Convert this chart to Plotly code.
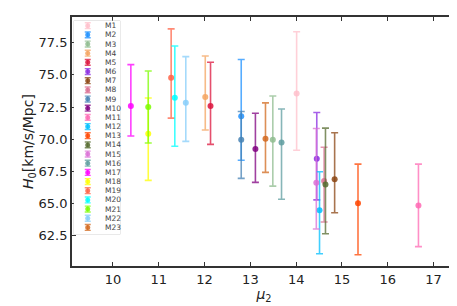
import plotly.graph_objects as go

models = ["M%d" % i for i in range(1, 24)]
colors = ["pink", "dodgerblue", "darkseagreen", "sandybrown", "crimson", "blueviolet",
          "saddlebrown", "palevioletred", "steelblue", "purple", "hotpink", "deepskyblue",
          "orangered", "darkolivegreen", "orchid", "cadetblue", "magenta", "yellow",
          "tomato", "cyan", "lawngreen", "lightskyblue", "chocolate"]
mu2 = [14.01, 12.80, 13.49, 12.015, 12.13, 14.45, 14.84, 14.61, 12.80, 13.11, 16.67, 14.51,
       15.35, 14.64, 14.44, 13.68, 10.39, 10.77, 11.27, 11.35, 10.77, 11.59, 13.33]
h0 = [73.56, 71.79, 69.96, 73.28, 72.58, 68.47, 66.88, 66.74, 69.96, 69.24, 64.85, 64.48,
      65.02, 66.47, 66.62, 69.75, 72.58, 70.42, 74.77, 73.22, 72.50, 72.84, 70.04]
h0_upper = [78.35, 76.19, 73.36, 76.47, 75.98, 72.07, 70.50, 69.37, 72.15, 72.02, 68.06, 67.47,
            68.06, 70.86, 70.83, 72.35, 75.80, 73.20, 78.58, 77.24, 75.30, 76.42, 72.82]
h0_lower = [69.14, 68.36, 66.35, 70.71, 69.60, 65.28, 64.28, 63.56, 66.95, 66.64, 61.65, 61.09,
            61.01, 62.65, 63.02, 65.33, 70.25, 66.80, 71.64, 69.45, 69.70, 69.83, 67.42]
x_ticks = [10, 11, 12, 13, 14, 15, 16, 17]
y_ticks = [62.5, 65.0, 67.5, 70.0, 72.5, 75.0, 77.5]

CSS = {
    "pink": (255, 192, 203), "dodgerblue": (30, 144, 255), "darkseagreen": (143, 188, 143),
    "sandybrown": (244, 164, 96), "crimson": (220, 20, 60), "blueviolet": (138, 43, 226),
    "saddlebrown": (139, 69, 19), "palevioletred": (219, 112, 147), "steelblue": (70, 130, 180),
    "purple": (128, 0, 128), "hotpink": (255, 105, 180), "deepskyblue": (0, 191, 255),
    "orangered": (255, 69, 0), "darkolivegreen": (85, 107, 47), "orchid": (218, 112, 214),
    "cadetblue": (95, 158, 160), "magenta": (255, 0, 255), "yellow": (255, 255, 0),
    "tomato": (255, 99, 71), "cyan": (0, 255, 255), "lawngreen": (124, 252, 0),
    "lightskyblue": (135, 206, 250), "chocolate": (210, 105, 30),
}


def rgba(name, a):
    r, g, b = CSS[name]
    return "rgba(%d,%d,%d,%.2f)" % (r, g, b, a)


FONT = "DejaVu Sans"
fig = go.Figure()

for i, m in enumerate(models):
    fig.add_trace(go.Scatter(
        x=[mu2[i]], y=[h0[i]], mode="markers", name=m, showlegend=False,
        marker=dict(color=rgba(colors[i], 0.85), size=6),
        error_y=dict(type="data", symmetric=False,
                     array=[h0_upper[i] - h0[i]], arrayminus=[h0[i] - h0_lower[i]],
                     color=rgba(colors[i], 0.75), thickness=1.6, width=3.5),
    ))

# hand-built legend in an inset axis
for i, m in enumerate(models):
    fig.add_trace(go.Scatter(
        x=[0.30], y=[i], mode="markers", showlegend=False, hoverinfo="skip",
        xaxis="x2", yaxis="y2",
        marker=dict(color=rgba(colors[i], 0.85), size=5),
        error_y=dict(type="data", array=[0.32], color=rgba(colors[i], 0.75),
                     thickness=1.4, width=3),
    ))
    fig.add_annotation(x=0.64, y=i, xref="x2", yref="y2", text=m, showarrow=False,
                       xanchor="left", yanchor="middle",
                       font=dict(family=FONT, size=7.5, color="#444"))

fig.add_shape(type="rect", xref="paper", yref="paper", x0=0.005, x1=0.125, y0=0.127, y1=0.985,
              line=dict(color="#d6d6d6", width=1), fillcolor="white", layer="below")

axis_common = dict(showgrid=False, zeroline=False, ticks="inside", ticklen=4, tickwidth=1.2,
                   tickcolor="#333", showline=True, linecolor="#333", linewidth=1.8,
                   mirror="allticks", tickfont=dict(family=FONT, size=13, color="#222"))

fig.update_layout(
    width=457, height=306,
    margin=dict(l=64, r=9, t=7, b=48),
    plot_bgcolor="white", paper_bgcolor="white",
    xaxis=dict(range=[9.105, 17.49], tickvals=x_ticks,
               title=dict(text="<i>μ</i><sub>2</sub>", font=dict(family=FONT, size=14, color="#222"),
                          standoff=4),
               **axis_common),
    yaxis=dict(range=[60.14, 79.5], tickvals=y_ticks, tickformat=".1f",
               title=dict(text="<i>H</i><sub>0</sub>[km/s/Mpc]",
                          font=dict(family=FONT, size=14, color="#222"), standoff=2),
               **axis_common),
    xaxis2=dict(domain=[0.005, 0.125], range=[0, 1], visible=False, anchor="y2"),
    yaxis2=dict(domain=[0.127, 0.985], range=[22.76, -0.54], visible=False, anchor="x2"),
)

fig.write_html("out.html")
